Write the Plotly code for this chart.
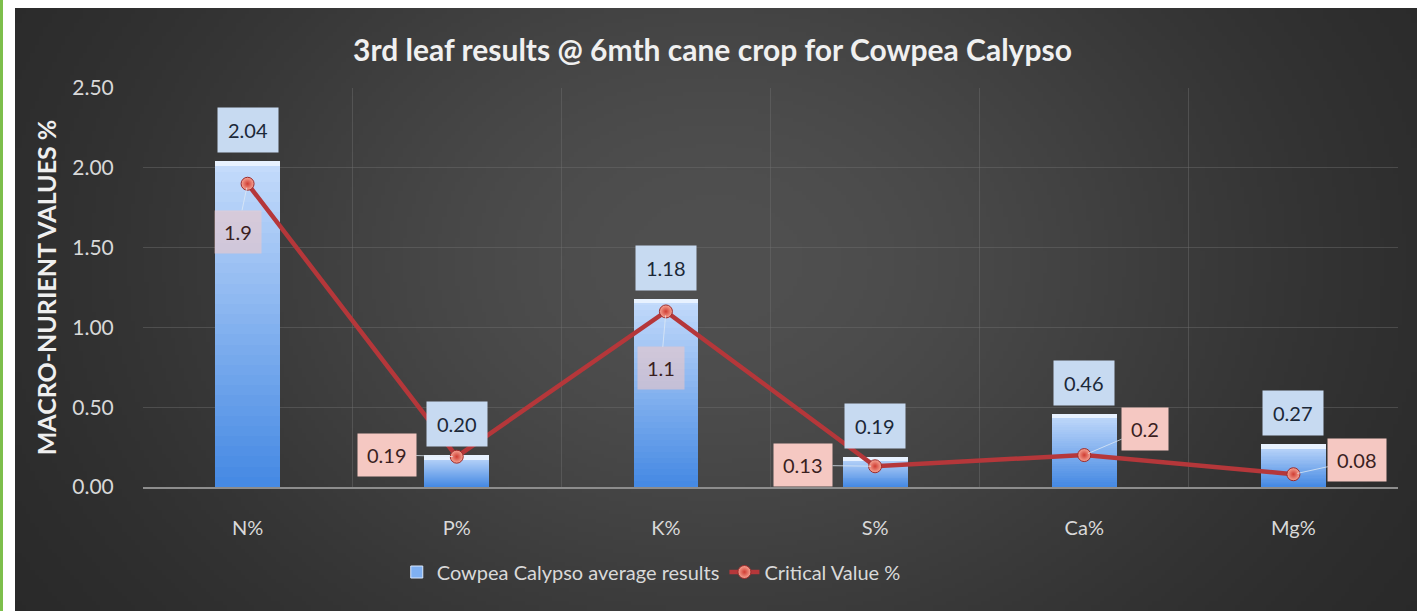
import base64
import struct
import zlib

import numpy as np
import plotly.graph_objects as go

# ---- data -------------------------------------------------------------
nutrients = ["N%", "P%", "K%", "S%", "Ca%", "Mg%"]
calypso_avg = [2.04, 0.20, 1.18, 0.19, 0.46, 0.27]
critical_value = [1.9, 0.19, 1.1, 0.13, 0.2, 0.08]
critical_text = ["1.9", "0.19", "1.1", "0.13", "0.2", "0.08"]
y_ticks = [0.0, 0.5, 1.0, 1.5, 2.0, 2.5]

# label offsets (pixels) for the critical-value call-outs
crit_offsets = [(-10, 48), (-70, -2), (-5, 57), (-72, -1), (61, -26), (64, -14)]
crit_alpha = [0.55, 1.0, 0.55, 1.0, 1.0, 1.0]

W, H = 1425, 611
L, R, T, B = 143, 27, 88, 124
plot_w = W - L - R
plot_h = H - T - B


def png_data_uri(rgb):
    h, w, _ = rgb.shape
    raw = b"".join(b"\x00" + rgb[i].tobytes() for i in range(h))

    def chunk(tag, data):
        c = struct.pack(">I", len(data)) + tag + data
        return c + struct.pack(">I", zlib.crc32(tag + data) & 0xFFFFFFFF)

    png = b"\x89PNG\r\n\x1a\n"
    png += chunk(b"IHDR", struct.pack(">IIBBBBB", w, h, 8, 2, 0, 0, 0))
    png += chunk(b"IDAT", zlib.compress(raw, 9))
    png += chunk(b"IEND", b"")
    return "data:image/png;base64," + base64.b64encode(png).decode()


# dark radial backdrop for the chart panel
gw, gh = 320, 140
u = np.linspace(0, 1, gw)[None, :]
v = np.linspace(0, 1, gh)[:, None]
glow = np.exp(-((u - 0.5) / 0.42) ** 2 - ((v - 0.42) / 0.75) ** 2)
shade = 36 + 44 * glow
bg = np.clip(np.stack([shade, shade, shade], axis=-1), 0, 255).astype(np.uint8)
bg_uri = png_data_uri(bg)

fig = go.Figure()

# bars drawn as overlaid bands to give a top-light / bottom-dark gradient
n_steps = 32
top_col = np.array([196, 219, 251])
bot_col = np.array([70, 138, 228])
bar_w = 0.31
for k in range(n_steps):
    frac = 1 - k / n_steps
    c = top_col + (bot_col - top_col) * (k / (n_steps - 1))
    color = "rgb(%d,%d,%d)" % tuple(c.astype(int))
    fig.add_trace(go.Bar(
        x=nutrients, y=[val * frac for val in calypso_avg],
        width=bar_w,
        marker=dict(color=color, line=dict(width=0)),
        name="Cowpea Calypso average results",
        showlegend=False, hoverinfo="skip",
    ))

# soft bright cap along the top of each bar
cap_depth = 0.03
fig.add_trace(go.Bar(
    x=nutrients, y=[cap_depth] * len(calypso_avg),
    base=[val - cap_depth for val in calypso_avg],
    width=bar_w, marker=dict(color="#e8f2ff", line=dict(width=0)),
    showlegend=False, hoverinfo="skip",
))

# legend entry for the bars
fig.add_trace(go.Bar(
    x=[None], y=[None],
    marker=dict(color="#7fb0f2", line=dict(color="#dbe9ff", width=1)),
    name="Cowpea Calypso average results", showlegend=True,
))

fig.add_trace(go.Scatter(
    x=nutrients, y=critical_value, mode="lines+markers",
    name="Critical Value %",
    line=dict(color="#b5373a", width=4.5),
    marker=dict(size=13, color="#f7a595",
                gradient=dict(type="radial", color="#cf3c32"),
                line=dict(color="#9c2a2a", width=1)),
))

annotations = []
# value boxes above the bars
for cat, val in zip(nutrients, calypso_avg):
    annotations.append(dict(
        x=cat, y=val, xref="x", yref="y", text="%.2f" % val,
        showarrow=False, yanchor="middle", yshift=31,
        font=dict(family="Lato", size=20, color="#1b2838"),
        bgcolor="#c7daf1", borderpad=10, bordercolor="rgba(0,0,0,0)",
    ))
# critical value call-outs with leader lines
for cat, val, txt, (dx, dy), a in zip(nutrients, critical_value, critical_text,
                                      crit_offsets, crit_alpha):
    annotations.append(dict(
        x=cat, y=val, xref="x", yref="y", text=txt,
        showarrow=True, ax=dx, ay=dy, arrowhead=0, arrowwidth=1,
        arrowcolor="rgba(225,235,245,0.75)", standoff=4,
        font=dict(family="Lato", size=20, color="#3a1f1f"),
        bgcolor="rgba(245,200,194,%.2f)" % a, borderpad=9,
        bordercolor="rgba(0,0,0,0)",
    ))

fig.update_layout(
    width=W, height=H,
    margin=dict(l=L, r=R, t=T, b=B, autoexpand=False),
    paper_bgcolor="white",
    plot_bgcolor="rgba(0,0,0,0)",
    barmode="overlay",
    bargap=0,
    title=dict(
        text="3rd leaf results @ 6mth cane crop for Cowpea Calypso",
        x=0.5, xref="container", xanchor="center",
        y=1 - 50 / H, yref="container", yanchor="middle",
        font=dict(family="Lato", size=30, color="#f0f0f0", weight="bold"),
    ),
    font=dict(family="Lato", color="#d9d9d9"),
    xaxis=dict(
        type="category", tickson="boundaries",
        showgrid=True, gridcolor="rgba(110,110,110,0.45)", gridwidth=1,
        showline=True, linecolor="#8d8d8d", linewidth=2,
        ticks="", ticklabelstandoff=22,
        tickfont=dict(family="Lato", size=20, color="#d9d9d9"),
        range=[-0.5, 5.5], fixedrange=True,
    ),
    yaxis=dict(
        range=[0, 2.5], tickvals=y_ticks, tickformat=".2f",
        showgrid=True, gridcolor="rgba(110,110,110,0.45)", gridwidth=1,
        zeroline=False,
        ticks="outside", ticklen=24, tickcolor="rgba(0,0,0,0)",
        tickfont=dict(family="Lato", size=21, color="#d9d9d9"),
        title=dict(text="MACRO-NURIENT VALUES %", standoff=8,
                   font=dict(family="Lato", size=25, color="#efefef", weight="bold")),
        fixedrange=True,
    ),
    legend=dict(
        orientation="h", x=0.405, xanchor="center", y=(487 - 572) / plot_h,
        yanchor="middle", font=dict(family="Lato", size=20, color="#d9d9d9"),
        bgcolor="rgba(0,0,0,0)", traceorder="normal",
    ),
    annotations=annotations,
    images=[dict(
        source=bg_uri, xref="paper", yref="paper",
        x=(15 - L) / plot_w, y=(H - B - 8) / plot_h,
        sizex=(1417 - 15) / plot_w, sizey=(611 - 8) / plot_h,
        sizing="stretch", xanchor="left", yanchor="top", layer="below",
    )],
    shapes=[dict(
        type="rect", xref="paper", yref="paper",
        x0=(0 - L) / plot_w, x1=(3 - L) / plot_w,
        y0=(H - B - 611) / plot_h, y1=(H - B) / plot_h,
        fillcolor="#7dbf4b", line=dict(width=0), layer="below",
    )],
)

fig.write_html("out.html")
